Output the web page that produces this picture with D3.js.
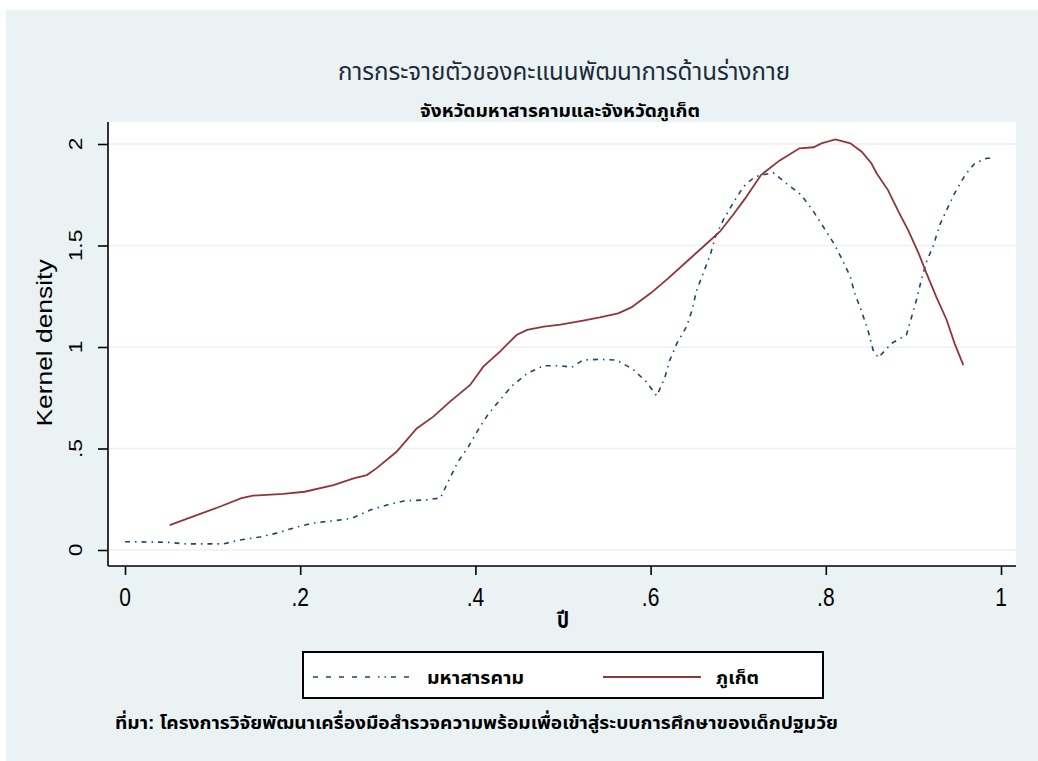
<!DOCTYPE html>
<html>
<head>
<meta charset="utf-8">
<script src="https://cdn.jsdelivr.net/npm/d3@7"></script>
<style>
  body { margin: 0; background: #fff; }
  text { font-family: Arial, "Liberation Sans", "Noto Sans Thai", Tahoma, sans-serif; }
</style>
</head>
<body>
<div id="chart-container"></div>
<script>
// datos
const xMaha = [0, 0.048, 0.07, 0.112, 0.131, 0.154, 0.173, 0.196, 0.215, 0.238, 0.259, 0.28, 0.299, 0.32, 0.342, 0.36,
  0.371, 0.38, 0.392, 0.403, 0.414, 0.428, 0.441, 0.459, 0.478, 0.497, 0.51, 0.523, 0.54, 0.561, 0.58, 0.595, 0.607,
  0.616, 0.622, 0.63, 0.641, 0.648, 0.652, 0.66, 0.668, 0.674, 0.683, 0.694, 0.706, 0.719, 0.74, 0.755, 0.772, 0.786,
  0.797, 0.809, 0.818, 0.828, 0.833, 0.841, 0.848, 0.854, 0.86, 0.875, 0.892, 0.898, 0.904, 0.909, 0.915, 0.923,
  0.93, 0.938, 0.947, 0.959, 0.97, 0.984, 0.993];
const densMaha = [0.041, 0.038, 0.03, 0.03, 0.049, 0.064, 0.083, 0.113, 0.133, 0.144, 0.156, 0.197, 0.222, 0.243, 0.246, 0.256,
  0.355, 0.434, 0.509, 0.591, 0.665, 0.739, 0.805, 0.87, 0.908, 0.908, 0.9, 0.936, 0.939, 0.936, 0.89, 0.829, 0.759,
  0.846, 0.936, 1.018, 1.1, 1.19, 1.272, 1.363, 1.453, 1.543, 1.626, 1.708, 1.79, 1.839, 1.859, 1.806, 1.749, 1.667,
  1.593, 1.511, 1.437, 1.346, 1.264, 1.174, 1.084, 0.985, 0.947, 1.018, 1.059, 1.149, 1.24, 1.33, 1.42, 1.502,
  1.601, 1.675, 1.757, 1.847, 1.905, 1.93, 1.93];

const xPhuket = [0.051, 0.082, 0.108, 0.133, 0.146, 0.181, 0.205, 0.238, 0.261, 0.276, 0.287, 0.31, 0.333, 0.352, 0.371,
  0.394, 0.409, 0.428, 0.447, 0.459, 0.478, 0.497, 0.523, 0.542, 0.563, 0.578, 0.601, 0.62, 0.641, 0.66, 0.679, 0.694,
  0.708, 0.726, 0.747, 0.77, 0.786, 0.795, 0.811, 0.828, 0.841, 0.852, 0.858, 0.871, 0.883, 0.894, 0.906, 0.915,
  0.926, 0.938, 0.947, 0.957];
const densPhuket = [0.123, 0.172, 0.213, 0.255, 0.268, 0.276, 0.287, 0.32, 0.353, 0.369, 0.402, 0.484, 0.599, 0.657, 0.731,
  0.813, 0.903, 0.977, 1.059, 1.084, 1.1, 1.11, 1.13, 1.146, 1.166, 1.195, 1.268, 1.338, 1.42, 1.494, 1.568, 1.65,
  1.732, 1.847, 1.918, 1.979, 1.984, 2.003, 2.023, 2.003, 1.962, 1.905, 1.856, 1.773, 1.667, 1.576, 1.461, 1.363,
  1.248, 1.133, 1.018, 0.911];

const xTicks = [0, 0.2, 0.4, 0.6, 0.8, 1];
const xTickLabels = ['0', '.2', '.4', '.6', '.8', '1'];
const yTicks = [0, 0.5, 1, 1.5, 2];
const yTickLabels = ['0', '.5', '1', '1.5', '2'];

const seriesNames = ['มหาสารคาม', 'ภูเก็ต'];
const titulo = 'การกระจายตัวของคะแนนพัฒนาการด้านร่างกาย';
const subtitulo = 'จังหวัดมหาสารคามและจังหวัดภูเก็ต';
const nota = 'ที่มา: โครงการวิจัยพัฒนาเครื่องมือสำรวจความพร้อมเพื่อเข้าสู่ระบบการศึกษาของเด็กปฐมวัย';

const width = 1038;
const height = 761;
const stretch = 1.2; // el original esta estirado en vertical

// region del grafico
const plot = { left: 108, right: 1016, top: 122, bottom: 566 };

const svg = d3.select('#chart-container')
  .append('svg')
  .attr('width', width)
  .attr('height', height);

// fondo
svg.append('rect')
  .attr('x', 6).attr('y', 10)
  .attr('width', width - 6).attr('height', height - 10)
  .attr('fill', '#eaf2f3');

svg.append('rect')
  .attr('x', plot.left).attr('y', plot.top)
  .attr('width', plot.right - plot.left).attr('height', plot.bottom - plot.top)
  .attr('fill', '#fff');

// Escalas
const xScale = d3.scaleLinear().domain([0, 1]).range([125, 1001]);
const yScale = d3.scaleLinear().domain([0, 2]).range([550, 144]);

// rejilla
svg.selectAll('.grid')
  .data(yTicks)
  .enter().append('line')
  .attr('x1', plot.left + 1).attr('x2', plot.right)
  .attr('y1', d => yScale(d)).attr('y2', d => yScale(d))
  .attr('stroke', '#eaf2f3')
  .attr('stroke-width', 1.5);

// Lineas
const line = d3.line()
  .x(d => xScale(d[0]))
  .y(d => yScale(d[1]));

svg.append('path')
  .datum(d3.zip(xMaha, densMaha))
  .attr('d', line)
  .attr('fill', 'none')
  .attr('stroke', '#1a476f')
  .attr('stroke-width', 1.6)
  .attr('stroke-dasharray', '5,5,1.5,5');

svg.append('path')
  .datum(d3.zip(xPhuket, densPhuket))
  .attr('d', line)
  .attr('fill', 'none')
  .attr('stroke', '#90353b')
  .attr('stroke-width', 1.8);

// Ejes
const xAxis = svg.append('g')
  .attr('transform', `translate(0, ${plot.bottom})`)
  .call(d3.axisBottom(xScale).tickValues(xTicks).tickSize(9).tickFormat(''));
xAxis.select('.domain').attr('d', `M${plot.left},0H${plot.right}`).attr('stroke-width', 1.6);
xAxis.selectAll('.tick line').attr('stroke-width', 1.6);

const yAxis = svg.append('g')
  .attr('transform', `translate(${plot.left}, 0)`)
  .call(d3.axisLeft(yScale).tickValues(yTicks).tickSize(10).tickFormat(''));
yAxis.select('.domain').attr('d', `M0,${plot.top}V${plot.bottom}`).attr('stroke-width', 1.6);
yAxis.selectAll('.tick line').attr('stroke-width', 1.6);

// etiquetas de los ejes
svg.selectAll('.xlab')
  .data(xTicks)
  .enter().append('text')
  .attr('transform', d => `translate(${xScale(d)}, 606) scale(1, ${stretch})`)
  .attr('text-anchor', 'middle')
  .attr('font-size', '21px')
  .attr('fill', '#000')
  .text((d, i) => xTickLabels[i]);

svg.selectAll('.ylab')
  .data(yTicks)
  .enter().append('text')
  .attr('transform', d => `translate(82, ${yScale(d)}) rotate(-90) scale(${stretch}, 1)`)
  .attr('text-anchor', 'middle')
  .attr('font-size', '19px')
  .attr('fill', '#000')
  .text((d, i) => yTickLabels[i]);

// Títulos
svg.append('text')
  .attr('transform', `translate(52, 343) rotate(-90) scale(${stretch}, 1)`)
  .attr('text-anchor', 'middle')
  .attr('font-size', '22px')
  .text('Kernel density');

svg.append('text')
  .attr('transform', `translate(563, 628) scale(1, ${stretch})`)
  .attr('text-anchor', 'middle')
  .attr('font-size', '19px')
  .attr('font-weight', 'bold')
  .text('ปี');

// texto tailandes ajustado al ancho del original
function thai(x, y, size, len, str, anchor) {
  return svg.append('text')
    .attr('transform', `translate(${x}, ${y}) scale(1, ${stretch})`)
    .attr('text-anchor', anchor)
    .attr('font-size', size + 'px')
    .attr('textLength', len)
    .attr('lengthAdjust', 'spacingAndGlyphs')
    .text(str);
}

thai(564, 80, 20, 452, titulo, 'middle').attr('fill', '#1c2a3a');
thai(560, 117, 14, 280, subtitulo, 'middle').attr('font-weight', 'bold');

// Leyenda
svg.append('rect')
  .attr('x', 303).attr('y', 652)
  .attr('width', 520).attr('height', 46)
  .attr('fill', '#fff')
  .attr('stroke', '#000')
  .attr('stroke-width', 2);

svg.append('line')
  .attr('x1', 313).attr('x2', 409).attr('y1', 677).attr('y2', 677)
  .attr('stroke', '#1a476f').attr('stroke-width', 1.6)
  .attr('stroke-dasharray', '5,8,5,8,5,8,5,8,5,8,1.5,5,1.5,5');

svg.append('line')
  .attr('x1', 603).attr('x2', 701).attr('y1', 677).attr('y2', 677)
  .attr('stroke', '#90353b').attr('stroke-width', 1.8);

thai(427, 684, 15, 97, seriesNames[0], 'start').attr('font-weight', 'bold');
thai(716, 684, 15, 43, seriesNames[1], 'start').attr('font-weight', 'bold');

// nota
thai(115, 729, 15, 723, nota, 'start').attr('font-weight', 'bold');
</script>
</body>
</html>
